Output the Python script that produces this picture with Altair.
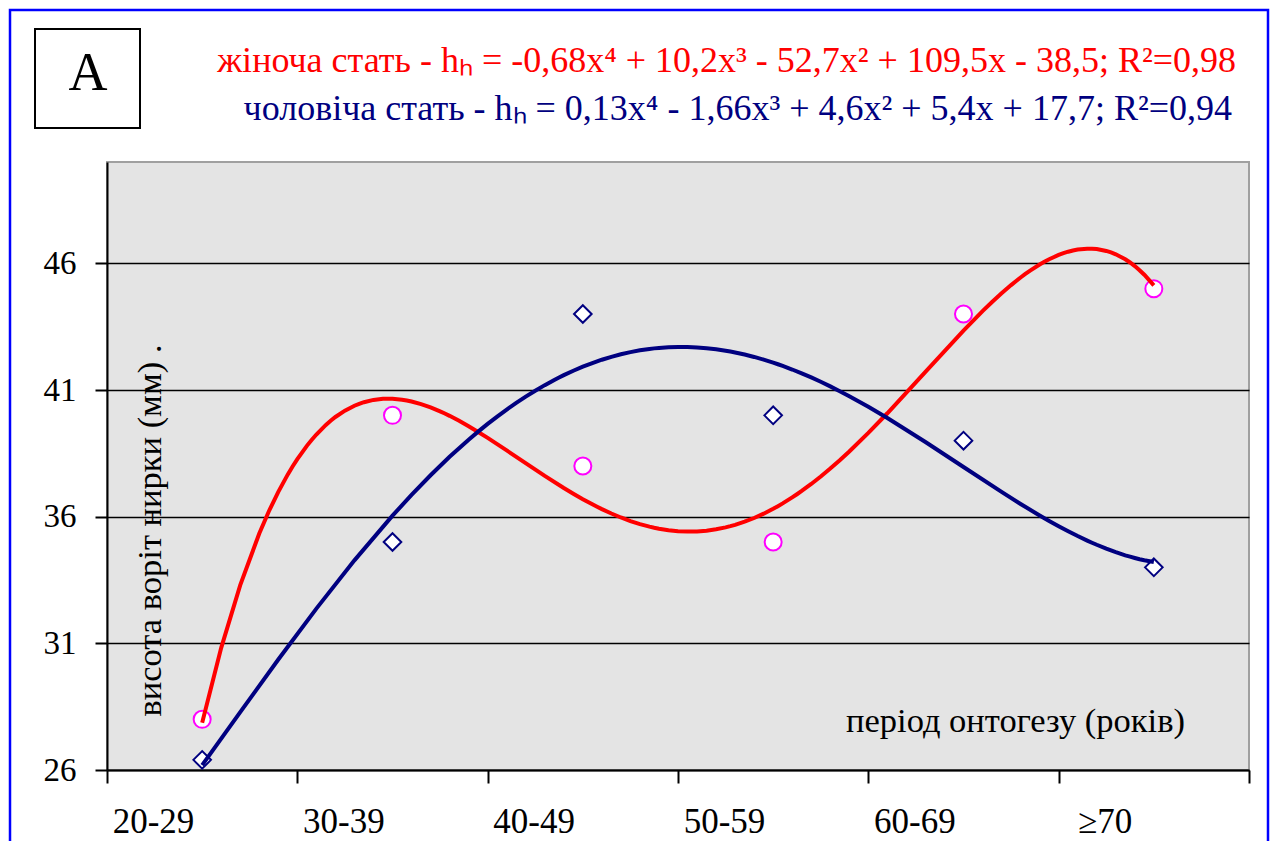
import altair as alt
import pandas as pd

categories = ['20-29', '30-39', '40-49', '50-59', '60-69', '≥70']
period_index = [1, 2, 3, 4, 5, 6]
female_values = [28, 40, 38, 35, 44, 45]
male_values = [26.4, 35, 44, 40, 39, 34]
y_ticks = [26, 31, 36, 41, 46]
x_ticks = [0.5, 1.5, 2.5, 3.5, 4.5, 5.5, 6.5]

female_label = "жіноча стать - hₕ = -0,68x⁴ + 10,2x³ - 52,7x² + 109,5x - 38,5; R²=0,98"
male_label = "чоловіча стать - hₕ = 0,13x⁴ - 1,66x³ + 4,6x² + 5,4x + 17,7; R²=0,94"
panel_label = "A"
y_title = "висота воріт нирки (мм) ."
x_title = "період онтогезу (років)"

FONT = "Liberation Serif"
W, H = 1142, 608

df_f = pd.DataFrame({"idx": period_index, "value": female_values})
df_m = pd.DataFrame({"idx": period_index, "value": male_values})

label_expr = "[" + ",".join("'" + c + "'" for c in categories + [""]) + "][floor(datum.value)]"

x_enc = alt.X(
    "idx:Q",
    scale=alt.Scale(domain=[0.5, 6.5], nice=False, zero=False),
    axis=alt.Axis(
        values=x_ticks, labelExpr=label_expr, labelOffset=46, labelFlush=False,
        labelFont=FONT, labelFontSize=35, labelColor="black", labelPadding=21,
        tickSize=13, tickColor="black", tickWidth=2, domainColor="black", domainWidth=2,
        grid=False, labelOverlap=False,
        title=x_title, titleFont=FONT, titleFontSize=34.5, titleFontWeight="normal",
        titleColor="black", titleX=908, titleY=-39, titleAlign="center",
        titleBaseline="alphabetic", titleAnchor="start",
    ),
)
y_enc = alt.Y(
    "value:Q",
    scale=alt.Scale(domain=[26, 50], nice=False, zero=False),
    axis=alt.Axis(
        values=y_ticks, labelFont=FONT, labelFontSize=33, labelColor="black",
        labelPadding=19, tickSize=12, tickColor="black", tickWidth=2,
        domainColor="black", domainWidth=2, grid=True, gridColor="black", gridWidth=1.5,
        title=y_title, titleFont=FONT, titleFontSize=34.5, titleFontWeight="normal",
        titleColor="black", titleAngle=270, titleX=53, titleY=368, titleAlign="center",
        titleBaseline="alphabetic", titleAnchor="start",
    ),
)

border = alt.Chart(pd.DataFrame({"k": [0]})).mark_rect(
    fillOpacity=0, stroke="#0000FF", strokeWidth=2.5
).encode(x=alt.value(-97), x2=alt.value(1161), y=alt.value(-152), y2=alt.value(720))

box = alt.Chart(pd.DataFrame({"k": [0]})).mark_rect(
    fill="white", stroke="black", strokeWidth=2
).encode(x=alt.value(-72), x2=alt.value(33), y=alt.value(-133), y2=alt.value(-34))

box_text = alt.Chart(pd.DataFrame({"t": [panel_label]})).mark_text(
    font=FONT, fontSize=54, color="black", align="center", baseline="alphabetic"
).encode(x=alt.value(-19), y=alt.value(-72), text="t:N")

title_f = alt.Chart(pd.DataFrame({"t": [female_label]})).mark_text(
    font=FONT, fontSize=36, color="#FF0000", align="right", baseline="alphabetic"
).encode(x=alt.value(1129), y=alt.value(-90), text="t:N")

title_m = alt.Chart(pd.DataFrame({"t": [male_label]})).mark_text(
    font=FONT, fontSize=36, color="#000080", align="right", baseline="alphabetic"
).encode(x=alt.value(1125), y=alt.value(-42), text="t:N")

pts_f = alt.Chart(df_f).mark_point(
    shape="circle", filled=True, fill="white", stroke="#FF00FF", strokeWidth=2,
    size=290, opacity=1,
).encode(x=x_enc, y=y_enc)

pts_m = alt.Chart(df_m).mark_point(
    shape="diamond", filled=True, fill="white", stroke="#000080", strokeWidth=2,
    size=310, opacity=1,
).encode(x=x_enc, y=y_enc)

line_f = alt.Chart(df_f).transform_regression(
    "idx", "value", method="poly", order=4
).mark_line(color="#FF0000", strokeWidth=4).encode(x=x_enc, y=y_enc)

line_m = alt.Chart(df_m).transform_regression(
    "idx", "value", method="poly", order=4
).mark_line(color="#000080", strokeWidth=4).encode(x=x_enc, y=y_enc)

chart = alt.layer(
    border, box, box_text, title_f, title_m, pts_f, pts_m, line_f, line_m
).properties(
    width=W, height=H,
    padding={"left": 99, "top": 154, "right": 21, "bottom": 71},
    autosize=alt.AutoSizeParams(type="none"),
    background="white",
).configure_view(
    fill="#E4E4E4", stroke="#A0A0A0", strokeWidth=2
)

chart.save("out.html", embed_options={"renderer": "svg", "actions": False})
